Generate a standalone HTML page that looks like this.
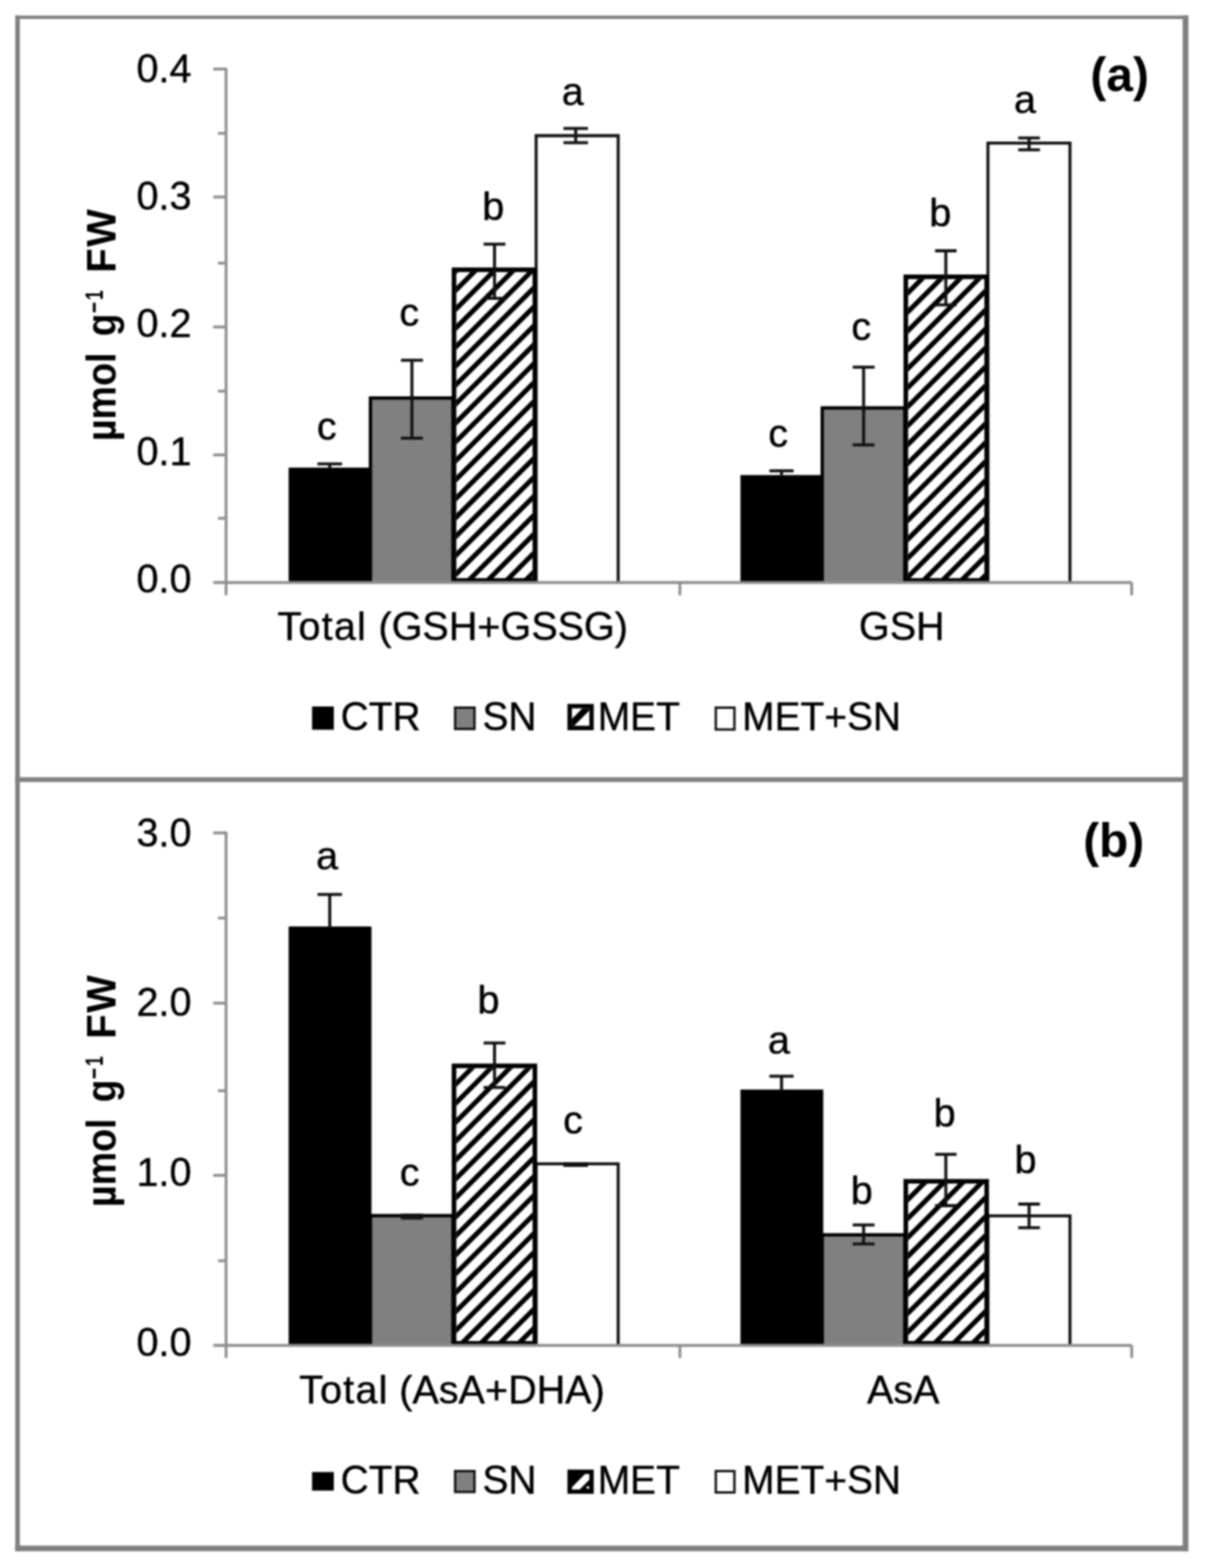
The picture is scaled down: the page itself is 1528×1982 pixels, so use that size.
<!DOCTYPE html>
<html><head><meta charset="utf-8"><title>Figure</title>
<style>html,body{margin:0;padding:0;background:#fff;overflow:hidden}svg{display:block}</style>
</head><body><div style="filter:blur(1px)">
<svg width="1528" height="1982" viewBox="0 0 1528 1982" font-family="'Liberation Sans', Arial, sans-serif">
<defs><clipPath id="hc0"><rect x="576.6999999999999" y="343.9" width="96.40000000000009" height="388.4"/></clipPath><clipPath id="hc1"><rect x="1147.7" y="352.79999999999995" width="96.39999999999986" height="379.5"/></clipPath><clipPath id="hc2"><rect x="576.6999999999999" y="1350.2" width="96.40000000000009" height="346.39999999999986"/></clipPath><clipPath id="hc3"><rect x="1147.7" y="1496.1000000000001" width="96.39999999999986" height="200.49999999999977"/></clipPath></defs>
<rect width="1528" height="1982" fill="#fff"/>
<rect x="19.3" y="19.5" width="5.8" height="1941.3" fill="#808080"/>
<rect x="19.3" y="19.7" width="1482.7" height="4.3" fill="#808080"/>
<rect x="1494.7" y="19.5" width="7.3" height="1941.3" fill="#808080"/>
<rect x="19.3" y="1953.7" width="1482.7" height="7.1" fill="#808080"/>
<rect x="19.3" y="982.4" width="1482.7" height="6.1" fill="#808080"/>
<line x1="285.7" y1="85.8" x2="285.7" y2="752.5" stroke="#8f8f8f" stroke-width="3.6"/>
<line x1="269.5" y1="87.30" x2="285.7" y2="87.30" stroke="#8f8f8f" stroke-width="3.6"/>
<line x1="269.5" y1="249.00" x2="285.7" y2="249.00" stroke="#8f8f8f" stroke-width="3.6"/>
<line x1="269.5" y1="413.30" x2="285.7" y2="413.30" stroke="#8f8f8f" stroke-width="3.6"/>
<line x1="269.5" y1="575.00" x2="285.7" y2="575.00" stroke="#8f8f8f" stroke-width="3.6"/>
<line x1="275.5" y1="168.50" x2="285.7" y2="168.50" stroke="#8f8f8f" stroke-width="3.6"/>
<line x1="275.5" y1="332.60" x2="285.7" y2="332.60" stroke="#8f8f8f" stroke-width="3.6"/>
<line x1="275.5" y1="494.40" x2="285.7" y2="494.40" stroke="#8f8f8f" stroke-width="3.6"/>
<line x1="275.5" y1="655.20" x2="285.7" y2="655.20" stroke="#8f8f8f" stroke-width="3.6"/>
<line x1="269.5" y1="736.30" x2="285.7" y2="736.30" stroke="#8f8f8f" stroke-width="3.8"/>
<path d="M677.60 736.3V171.5H781.30V736.3" fill="#fff" stroke="#111" stroke-width="3.8"/>
<path d="M468.20 736.3V503.1H572.50V736.3" fill="#808080" stroke="#000" stroke-width="4.2"/>
<rect x="364.8" y="591.1" width="104.69999999999999" height="145.69999999999993" fill="#000"/>
<rect x="573.8" y="341.0" width="102.20000000000005" height="394.29999999999995" fill="#fff"/>
<path d="M152.65 742.30L561.05 333.90M176.60 742.30L585.00 333.90M200.55 742.30L608.95 333.90M224.50 742.30L632.90 333.90M248.45 742.30L656.85 333.90M272.40 742.30L680.80 333.90M296.35 742.30L704.75 333.90M320.30 742.30L728.70 333.90M344.25 742.30L752.65 333.90M368.20 742.30L776.60 333.90M392.15 742.30L800.55 333.90M416.10 742.30L824.50 333.90M440.05 742.30L848.45 333.90M464.00 742.30L872.40 333.90M487.95 742.30L896.35 333.90M511.90 742.30L920.30 333.90M535.85 742.30L944.25 333.90M559.80 742.30L968.20 333.90M583.75 742.30L992.15 333.90M607.70 742.30L1016.10 333.90M631.65 742.30L1040.05 333.90M655.60 742.30L1064.00 333.90M679.55 742.30L1087.95 333.90M703.50 742.30L1111.90 333.90" stroke="#000" stroke-width="6.2" fill="none" clip-path="url(#hc0)"/>
<rect x="573.8" y="341.0" width="102.20000000000005" height="392.69999999999993" fill="none" stroke="#000" stroke-width="5.8"/>
<path d="M416.75 586.4V591.1M401.25 586.4H432.25" stroke="#111" stroke-width="3.8" fill="none"/>
<path d="M520.60 455.3V553.9M506.70 455.3H534.50M506.70 553.9H534.50" stroke="#111" stroke-width="3.8" fill="none"/>
<path d="M625.00 308.7V377.2M611.20 308.7H638.80M611.20 377.2H638.80" stroke="#111" stroke-width="3.8" fill="none"/>
<path d="M727.60 162.3V180.3M712.10 162.3H743.10M712.10 180.3H743.10" stroke="#111" stroke-width="3.8" fill="none"/>
<path d="M1248.60 736.3V180.8H1352.30V736.3" fill="#fff" stroke="#111" stroke-width="3.8"/>
<path d="M1039.20 736.3V515.6H1143.50V736.3" fill="#808080" stroke="#000" stroke-width="4.2"/>
<rect x="935.8" y="600.5" width="104.69999999999999" height="136.29999999999995" fill="#000"/>
<rect x="1144.8" y="349.9" width="102.20000000000005" height="385.4" fill="#fff"/>
<path d="M727.45 742.30L1126.95 342.80M751.40 742.30L1150.90 342.80M775.35 742.30L1174.85 342.80M799.30 742.30L1198.80 342.80M823.25 742.30L1222.75 342.80M847.20 742.30L1246.70 342.80M871.15 742.30L1270.65 342.80M895.10 742.30L1294.60 342.80M919.05 742.30L1318.55 342.80M943.00 742.30L1342.50 342.80M966.95 742.30L1366.45 342.80M990.90 742.30L1390.40 342.80M1014.85 742.30L1414.35 342.80M1038.80 742.30L1438.30 342.80M1062.75 742.30L1462.25 342.80M1086.70 742.30L1486.20 342.80M1110.65 742.30L1510.15 342.80M1134.60 742.30L1534.10 342.80M1158.55 742.30L1558.05 342.80M1182.50 742.30L1582.00 342.80M1206.45 742.30L1605.95 342.80M1230.40 742.30L1629.90 342.80M1254.35 742.30L1653.85 342.80M1278.30 742.30L1677.80 342.80" stroke="#000" stroke-width="6.2" fill="none" clip-path="url(#hc1)"/>
<rect x="1144.8" y="349.9" width="102.20000000000005" height="383.79999999999995" fill="none" stroke="#000" stroke-width="5.8"/>
<path d="M987.75 595.2V600.5M972.45 595.2H1003.05" stroke="#111" stroke-width="3.8" fill="none"/>
<path d="M1091.50 464.2V562.4M1077.70 464.2H1105.30M1077.70 562.4H1105.30" stroke="#111" stroke-width="3.8" fill="none"/>
<path d="M1195.40 317.0V385.3M1181.80 317.0H1209.00M1181.80 385.3H1209.00" stroke="#111" stroke-width="3.8" fill="none"/>
<path d="M1300.60 174.3V189.3M1286.90 174.3H1314.30M1286.90 189.3H1314.30" stroke="#111" stroke-width="3.8" fill="none"/>
<line x1="285.7" y1="736.3" x2="1430.3" y2="736.3" stroke="#8f8f8f" stroke-width="3.8"/>
<line x1="859.3" y1="736.3" x2="859.3" y2="752.5" stroke="#8f8f8f" stroke-width="3.6"/>
<line x1="1430.3" y1="736.3" x2="1430.3" y2="752.5" stroke="#8f8f8f" stroke-width="3.6"/>
<line x1="285.7" y1="1051.3" x2="285.7" y2="1716.5" stroke="#8f8f8f" stroke-width="3.6"/>
<line x1="269.5" y1="1052.80" x2="285.7" y2="1052.80" stroke="#8f8f8f" stroke-width="3.6"/>
<line x1="269.5" y1="1268.00" x2="285.7" y2="1268.00" stroke="#8f8f8f" stroke-width="3.6"/>
<line x1="269.5" y1="1485.70" x2="285.7" y2="1485.70" stroke="#8f8f8f" stroke-width="3.6"/>
<line x1="275.5" y1="1160.40" x2="285.7" y2="1160.40" stroke="#8f8f8f" stroke-width="3.6"/>
<line x1="275.5" y1="1378.70" x2="285.7" y2="1378.70" stroke="#8f8f8f" stroke-width="3.6"/>
<line x1="275.5" y1="1593.60" x2="285.7" y2="1593.60" stroke="#8f8f8f" stroke-width="3.6"/>
<line x1="269.5" y1="1700.60" x2="285.7" y2="1700.60" stroke="#8f8f8f" stroke-width="3.8"/>
<path d="M677.60 1700.6V1471.1H781.30V1700.6" fill="#fff" stroke="#111" stroke-width="3.8"/>
<path d="M468.20 1700.6V1536.6H572.50V1700.6" fill="#808080" stroke="#000" stroke-width="4.2"/>
<rect x="364.8" y="1171.1" width="104.69999999999999" height="530.0" fill="#000"/>
<rect x="573.8" y="1347.3" width="102.20000000000005" height="352.29999999999995" fill="#fff"/>
<path d="M191.95 1706.60L558.35 1340.20M215.90 1706.60L582.30 1340.20M239.85 1706.60L606.25 1340.20M263.80 1706.60L630.20 1340.20M287.75 1706.60L654.15 1340.20M311.70 1706.60L678.10 1340.20M335.65 1706.60L702.05 1340.20M359.60 1706.60L726.00 1340.20M383.55 1706.60L749.95 1340.20M407.50 1706.60L773.90 1340.20M431.45 1706.60L797.85 1340.20M455.40 1706.60L821.80 1340.20M479.35 1706.60L845.75 1340.20M503.30 1706.60L869.70 1340.20M527.25 1706.60L893.65 1340.20M551.20 1706.60L917.60 1340.20M575.15 1706.60L941.55 1340.20M599.10 1706.60L965.50 1340.20M623.05 1706.60L989.45 1340.20M647.00 1706.60L1013.40 1340.20M670.95 1706.60L1037.35 1340.20M694.90 1706.60L1061.30 1340.20" stroke="#000" stroke-width="6.2" fill="none" clip-path="url(#hc2)"/>
<rect x="573.8" y="1347.3" width="102.20000000000005" height="350.69999999999993" fill="none" stroke="#000" stroke-width="5.8"/>
<path d="M416.75 1130.6V1171.1M401.25 1130.6H432.25" stroke="#111" stroke-width="3.8" fill="none"/>
<path d="M520.60 1536.0V1539.6M506.70 1536.0H534.50M506.70 1539.6H534.50" stroke="#111" stroke-width="3.8" fill="none"/>
<path d="M625.00 1318.3V1374.6M611.20 1318.3H638.80M611.20 1374.6H638.80" stroke="#111" stroke-width="3.8" fill="none"/>
<path d="M727.60 1471.0V1473.2M712.10 1471.0H743.10M712.10 1473.2H743.10" stroke="#111" stroke-width="3.8" fill="none"/>
<path d="M1248.60 1700.6V1536.9H1352.30V1700.6" fill="#fff" stroke="#111" stroke-width="3.8"/>
<path d="M1039.20 1700.6V1560.8H1143.50V1700.6" fill="#808080" stroke="#000" stroke-width="4.2"/>
<rect x="935.8" y="1377.2" width="104.69999999999999" height="323.89999999999986" fill="#000"/>
<rect x="1144.8" y="1493.2" width="102.20000000000005" height="206.39999999999986" fill="#fff"/>
<path d="M909.15 1706.60L1129.65 1486.10M933.10 1706.60L1153.60 1486.10M957.05 1706.60L1177.55 1486.10M981.00 1706.60L1201.50 1486.10M1004.95 1706.60L1225.45 1486.10M1028.90 1706.60L1249.40 1486.10M1052.85 1706.60L1273.35 1486.10M1076.80 1706.60L1297.30 1486.10M1100.75 1706.60L1321.25 1486.10M1124.70 1706.60L1345.20 1486.10M1148.65 1706.60L1369.15 1486.10M1172.60 1706.60L1393.10 1486.10M1196.55 1706.60L1417.05 1486.10M1220.50 1706.60L1441.00 1486.10M1244.45 1706.60L1464.95 1486.10M1268.40 1706.60L1488.90 1486.10" stroke="#000" stroke-width="6.2" fill="none" clip-path="url(#hc3)"/>
<rect x="1144.8" y="1493.2" width="102.20000000000005" height="204.79999999999987" fill="none" stroke="#000" stroke-width="5.8"/>
<path d="M987.75 1360.4V1377.2M972.45 1360.4H1003.05" stroke="#111" stroke-width="3.8" fill="none"/>
<path d="M1091.50 1548.4V1572.3M1077.70 1548.4H1105.30M1077.70 1572.3H1105.30" stroke="#111" stroke-width="3.8" fill="none"/>
<path d="M1195.40 1459.2V1524.0M1181.80 1459.2H1209.00M1181.80 1524.0H1209.00" stroke="#111" stroke-width="3.8" fill="none"/>
<path d="M1300.60 1522.0V1551.9M1286.90 1522.0H1314.30M1286.90 1551.9H1314.30" stroke="#111" stroke-width="3.8" fill="none"/>
<line x1="285.7" y1="1700.6" x2="1430.3" y2="1700.6" stroke="#8f8f8f" stroke-width="3.8"/>
<line x1="859.3" y1="1700.6" x2="859.3" y2="1716.5" stroke="#8f8f8f" stroke-width="3.6"/>
<line x1="1430.3" y1="1700.6" x2="1430.3" y2="1716.5" stroke="#8f8f8f" stroke-width="3.6"/>
<text x="242" y="103.5" font-size="50" font-weight="400" text-anchor="end" fill="#000" stroke="#000" stroke-width="0.5">0.4</text>
<text x="242" y="264.9" font-size="50" font-weight="400" text-anchor="end" fill="#000" stroke="#000" stroke-width="0.5">0.3</text>
<text x="242" y="426.4" font-size="50" font-weight="400" text-anchor="end" fill="#000" stroke="#000" stroke-width="0.5">0.2</text>
<text x="242" y="587.8" font-size="50" font-weight="400" text-anchor="end" fill="#000" stroke="#000" stroke-width="0.5">0.1</text>
<text x="242" y="749.3" font-size="50" font-weight="400" text-anchor="end" fill="#000" stroke="#000" stroke-width="0.5">0.0</text>
<text x="242" y="1069.5" font-size="50" font-weight="400" text-anchor="end" fill="#000" stroke="#000" stroke-width="0.5">3.0</text>
<text x="242" y="1284.4" font-size="50" font-weight="400" text-anchor="end" fill="#000" stroke="#000" stroke-width="0.5">2.0</text>
<text x="242" y="1499.3" font-size="50" font-weight="400" text-anchor="end" fill="#000" stroke="#000" stroke-width="0.5">1.0</text>
<text x="242" y="1714.2" font-size="50" font-weight="400" text-anchor="end" fill="#000" stroke="#000" stroke-width="0.5">0.0</text>
<text x="350.7" y="809.3" font-size="50" font-weight="400" text-anchor="start" fill="#000" stroke="#000" stroke-width="0.5" letter-spacing="1.5">Total</text>
<text x="478.3" y="809.3" font-size="50" font-weight="400" text-anchor="start" fill="#000" stroke="#000" stroke-width="0.5">(GSH+GSSG)</text>
<text x="1139.8" y="809.2" font-size="50" font-weight="400" text-anchor="middle" fill="#000" stroke="#000" stroke-width="0.5">GSH</text>
<text x="378.0" y="1774.0" font-size="50" font-weight="400" text-anchor="start" fill="#000" stroke="#000" stroke-width="0.5" letter-spacing="1.5">Total</text>
<text x="504.6" y="1774.0" font-size="50" font-weight="400" text-anchor="start" fill="#000" stroke="#000" stroke-width="0.5">(AsA+DHA)</text>
<text x="1141.6" y="1773.7" font-size="50" font-weight="400" text-anchor="middle" fill="#000" stroke="#000" stroke-width="0.5">AsA</text>
<text x="413.0" y="556.0" font-size="50" font-weight="400" text-anchor="middle" fill="#000" stroke="#000" stroke-width="0.5">c</text>
<text x="517.2" y="412.0" font-size="50" font-weight="400" text-anchor="middle" fill="#000" stroke="#000" stroke-width="0.5">c</text>
<text x="623.4" y="278.3" font-size="50" font-weight="400" text-anchor="middle" fill="#000" stroke="#000" stroke-width="0.5">b</text>
<text x="723.8" y="133.3" font-size="50" font-weight="400" text-anchor="middle" fill="#000" stroke="#000" stroke-width="0.5">a</text>
<text x="983.6" y="564.7" font-size="50" font-weight="400" text-anchor="middle" fill="#000" stroke="#000" stroke-width="0.5">c</text>
<text x="1088.5" y="429.6" font-size="50" font-weight="400" text-anchor="middle" fill="#000" stroke="#000" stroke-width="0.5">c</text>
<text x="1188.5" y="286.0" font-size="50" font-weight="400" text-anchor="middle" fill="#000" stroke="#000" stroke-width="0.5">b</text>
<text x="1295.3" y="143.1" font-size="50" font-weight="400" text-anchor="middle" fill="#000" stroke="#000" stroke-width="0.5">a</text>
<text x="413.5" y="1098.8" font-size="50" font-weight="400" text-anchor="middle" fill="#000" stroke="#000" stroke-width="0.5">a</text>
<text x="517.8" y="1498.9" font-size="50" font-weight="400" text-anchor="middle" fill="#000" stroke="#000" stroke-width="0.5">c</text>
<text x="617.4" y="1280.9" font-size="50" font-weight="400" text-anchor="middle" fill="#000" stroke="#000" stroke-width="0.5">b</text>
<text x="724.2" y="1433.3" font-size="50" font-weight="400" text-anchor="middle" fill="#000" stroke="#000" stroke-width="0.5">c</text>
<text x="984.3" y="1331.6" font-size="50" font-weight="400" text-anchor="middle" fill="#000" stroke="#000" stroke-width="0.5">a</text>
<text x="1089.1" y="1522.2" font-size="50" font-weight="400" text-anchor="middle" fill="#000" stroke="#000" stroke-width="0.5">b</text>
<text x="1193.9" y="1424.3" font-size="50" font-weight="400" text-anchor="middle" fill="#000" stroke="#000" stroke-width="0.5">b</text>
<text x="1296.1" y="1483.4" font-size="50" font-weight="400" text-anchor="middle" fill="#000" stroke="#000" stroke-width="0.5">b</text>
<text x="1415.1" y="114.5" font-size="60.5" font-weight="700" text-anchor="middle" fill="#000">(a)</text>
<text x="1407.5" y="1083.0" font-size="60.5" font-weight="700" text-anchor="middle" fill="#000">(b)</text>
<text transform="translate(145.8,557.60) rotate(-90) scale(0.934,1)" font-size="51" font-weight="700" fill="#000">µmol</text>
<text transform="translate(145.8,425.05) rotate(-90) scale(0.92,1)" font-size="51" font-weight="700" fill="#000">g</text>
<text transform="translate(130.2,395.80) rotate(-90) scale(0.73,1)" font-size="33" font-weight="700" fill="#000">−</text>
<text transform="translate(130.3,379.30) rotate(-90) scale(0.7,1)" font-size="32" font-weight="700" fill="#000">1</text>
<text transform="translate(145.8,344.85) rotate(-90) scale(0.99,1)" font-size="51" font-weight="700" fill="#000" letter-spacing="2">FW</text>
<text transform="translate(145.8,1525.80) rotate(-90) scale(0.934,1)" font-size="51" font-weight="700" fill="#000">µmol</text>
<text transform="translate(145.8,1393.25) rotate(-90) scale(0.92,1)" font-size="51" font-weight="700" fill="#000">g</text>
<text transform="translate(130.2,1364.00) rotate(-90) scale(0.73,1)" font-size="33" font-weight="700" fill="#000">−</text>
<text transform="translate(130.3,1347.50) rotate(-90) scale(0.7,1)" font-size="32" font-weight="700" fill="#000">1</text>
<text transform="translate(145.8,1313.05) rotate(-90) scale(0.99,1)" font-size="51" font-weight="700" fill="#000" letter-spacing="2">FW</text>
<rect x="394.4" y="893.0" width="27.5" height="29.399999999999977" fill="#000"/>
<rect x="575.2" y="894.5" width="24.5" height="26.899999999999977" fill="#808080" stroke="#111" stroke-width="3"/>
<rect x="904.7" y="894.5" width="23.5" height="27.600000000000023" fill="#fff" stroke="#111" stroke-width="3"/>
<text x="430.4" y="922.6" font-size="49.2" font-weight="400" text-anchor="start" fill="#000" stroke="#000" stroke-width="0.5">CTR</text>
<text x="609.7" y="922.6" font-size="49.2" font-weight="400" text-anchor="start" fill="#000" stroke="#000" stroke-width="0.5">SN</text>
<text x="755.4" y="922.6" font-size="49.2" font-weight="400" text-anchor="start" fill="#000" stroke="#000" stroke-width="0.5">MET</text>
<text x="938.0" y="922.6" font-size="49.2" font-weight="400" text-anchor="start" fill="#000" stroke="#000" stroke-width="0.5">MET+SN</text>
<rect x="720" y="892.6" width="27.6" height="27.6" fill="#fff" stroke="#000" stroke-width="5.6"/>
<clipPath id="lgA"><rect x="722.8" y="895.4" width="22" height="22"/></clipPath>
<line x1="712" y1="925.2" x2="756" y2="881.2" stroke="#000" stroke-width="8.2" clip-path="url(#lgA)"/>
<rect x="394.4" y="1860.7" width="27.5" height="23.5" fill="#000"/>
<rect x="575.2" y="1859.5" width="24.5" height="26.40000000000009" fill="#808080" stroke="#111" stroke-width="3"/>
<rect x="904.7" y="1859.5" width="23.5" height="27.0" fill="#fff" stroke="#111" stroke-width="3"/>
<text x="430.4" y="1887.6" font-size="49.2" font-weight="400" text-anchor="start" fill="#000" stroke="#000" stroke-width="0.5">CTR</text>
<text x="609.7" y="1887.6" font-size="49.2" font-weight="400" text-anchor="start" fill="#000" stroke="#000" stroke-width="0.5">SN</text>
<text x="755.4" y="1887.6" font-size="49.2" font-weight="400" text-anchor="start" fill="#000" stroke="#000" stroke-width="0.5">MET</text>
<text x="938.0" y="1887.6" font-size="49.2" font-weight="400" text-anchor="start" fill="#000" stroke="#000" stroke-width="0.5">MET+SN</text>
<rect x="720" y="1860.4" width="27.6" height="25" fill="#000" stroke="#000" stroke-width="5.6"/>
<clipPath id="lgB"><rect x="722.8" y="1863.2" width="22" height="19.6"/></clipPath>
<line x1="715" y1="1894" x2="755" y2="1854" stroke="#fff" stroke-width="9" clip-path="url(#lgB)"/>
<circle cx="743" cy="1880.3" r="1.8" fill="#fff"/>
</svg>
</div></body></html>
